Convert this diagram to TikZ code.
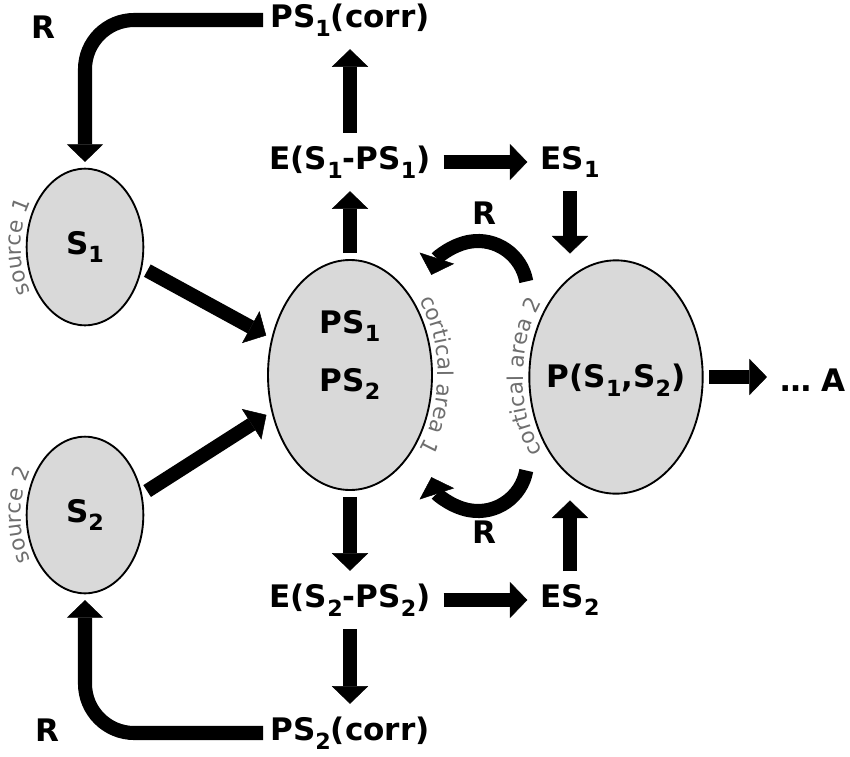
\documentclass[tikz,border=0pt]{standalone}
\usepackage{fontspec}
\setmainfont{DejaVu Sans}
\usetikzlibrary{shapes.geometric,arrows.meta,calc,decorations.text}
\definecolor{areafill}{HTML}{D9D9D9}
\definecolor{notegray}{HTML}{6E6E6E}
\newcommand{\lowidx}[1]{\raisebox{-0.28em}{\fontsize{19}{19}\selectfont #1}}
\newcommand{\notefont}{\fontsize{18.5}{20}\selectfont}
\tikzset{
  area/.style={ellipse, draw, line width=1.6pt, fill=areafill, inner sep=0pt,
    font=\fontsize{26.5}{30}\selectfont\bfseries},
  lbl/.style={inner sep=6pt, font=\fontsize{26.5}{30}\selectfont\bfseries},
  fat/.style={line width=12pt, -{Triangle[width=31pt,length=15pt,line width=0.4pt]},
    shorten >=5pt, shorten <=5pt},
  note/.style={decorate, decoration={text along path, text align=center,
    text color=notegray, text={|\notefont|#1}}},
}
\begin{document}
\begin{tikzpicture}[x=0.03cm, y=0.03cm]
    \useasboundingbox (0,0) rectangle (850,-756);

    % Quellen
    \node[area, minimum width=3.5cm, minimum height=4.7cm] (s1) at (85,-247) {S\lowidx{1}};
    \node[area, minimum width=3.5cm, minimum height=4.7cm] (s2) at (85,-515) {S\lowidx{2}};

    % Kortikale Areale
    \node[area, minimum width=4.92cm, minimum height=6.9cm] (ps) at (350,-375) {};
    \node[area, minimum width=5.2cm, minimum height=7cm] (p) at (616,-377) {};
    \node[lbl] (ps1) at (350,-326) {PS\lowidx{1}};
    \node[lbl] (ps2) at (350,-384) {PS\lowidx{2}};
    \node[lbl] (pj) at (616,-380) {P(S\lowidx{1},S\lowidx{2})};

    % Fehler, Korrekturen
    \node[lbl] (c1) at (350,-20) {PS\lowidx{1}(corr)};
    \node[lbl] (e1) at (350,-162) {E(S\lowidx{1}-PS\lowidx{1})};
    \node[lbl] (es1) at (570,-162) {ES\lowidx{1}};
    \node[lbl] (e2) at (350,-600) {E(S\lowidx{2}-PS\lowidx{2})};
    \node[lbl] (es2) at (570,-600) {ES\lowidx{2}};
    \node[lbl] (c2) at (350,-733) {PS\lowidx{2}(corr)};
    \node[lbl] (act) at (813,-380) {… A};

    % R
    \node[lbl] (r1) at (43,-27) {R};
    \node[lbl] (r2) at (47,-730) {R};
    \node[lbl] (r3) at (484,-213) {R};
    \node[lbl] (r4) at (484,-532) {R};

    % Beschriftungen am Rand
    \path[note={source 1}] ($(s1.center)+(235:64 and 84)$)
        arc[start angle=235, end angle=125, x radius=64, y radius=84];
    \path[note={source 2}] ($(s2.center)+(235:64 and 84)$)
        arc[start angle=235, end angle=125, x radius=64, y radius=84];
    \path[note={cortical area 1}] ($(ps.center)+(55:88 and 121)$)
        arc[start angle=55, end angle=-55, x radius=88, y radius=121];
    \path[note={cortical area 2}] ($(p.center)+(235:93 and 123)$)
        arc[start angle=235, end angle=125, x radius=93, y radius=123];

    % Pfeile
    \draw[fat, shorten <=0pt, rounded corners=42pt] (c1.west) -| (s1.north);
    \draw[fat, shorten <=0pt, rounded corners=42pt] (c2.west) -| (s2.south);
    \draw[fat] (s1.-20) -- (ps.155);
    \draw[fat] (s2.20) -- (ps.205);
    \draw[fat] (ps.north) -- (e1.south);
    \draw[fat] (e1.north) -- (c1.south);
    \draw[fat] (e1.east) -- (es1.west);
    \draw[fat] (es1.south) -- (es1.south |- p.north);
    \draw[fat] (ps.south) -- (e2.north);
    \draw[fat] (e2.south) -- (c2.north);
    \draw[fat] (e2.east) -- (es2.west);
    \draw[fat] (es2.north) -- (es2.north |- p.south);
    \draw[fat] (p.east) -- (p.east -| act.west);

    % Rueckkopplung zwischen den Arealen
    \coordinate (rtop) at (478,-290);
    \coordinate (rbot) at (478,-462);
    \draw[fat, shorten <=0pt, shorten >=0pt] ($(rtop)+(10:49)$) arc[start angle=10, end angle=162, radius=49];
    \draw[fat, shorten <=0pt, shorten >=0pt] ($(rbot)+(-10:49)$) arc[start angle=-10, end angle=-162, radius=49];
\end{tikzpicture}
\end{document}
